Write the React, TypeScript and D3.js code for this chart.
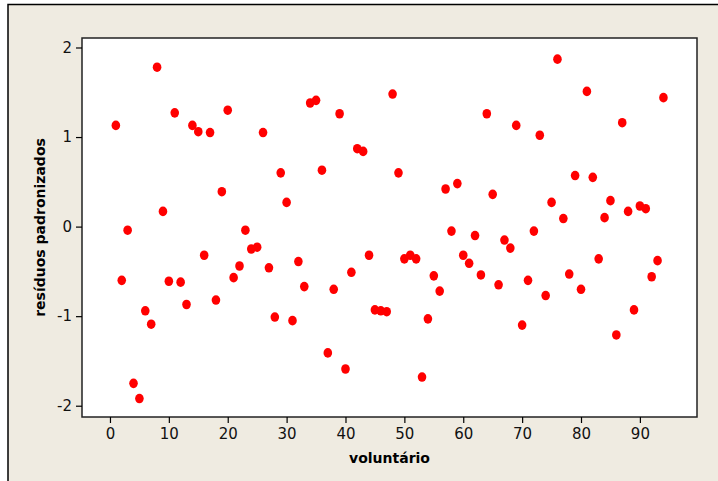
import { useEffect, useRef } from 'react';
import * as d3 from 'd3';

// volunteer index 1..94 and standardized residuals
const residuals = [
  1.13, -0.6, -0.04, -1.75, -1.92, -0.94, -1.09, 1.78, 0.17, -0.61,
  1.27, -0.62, -0.87, 1.13, 1.06, -0.32, 1.05, -0.82, 0.39, 1.3,
  -0.57, -0.44, -0.04, -0.25, -0.23, 1.05, -0.46, -1.01, 0.6, 0.27,
  -1.05, -0.39, -0.67, 1.38, 1.41, 0.63, -1.41, -0.7, 1.26, -1.59,
  -0.51, 0.87, 0.84, -0.32, -0.93, -0.94, -0.95, 1.48, 0.6, -0.36,
  -0.32, -0.36, -1.68, -1.03, -0.55, -0.72, 0.42, -0.05, 0.48, -0.32,
  -0.41, -0.1, -0.54, 1.26, 0.36, -0.65, -0.15, -0.24, 1.13, -1.1,
  -0.6, -0.05, 1.02, -0.77, 0.27, 1.87, 0.09, -0.53, 0.57, -0.7,
  1.51, 0.55, -0.36, 0.1, 0.29, -1.21, 1.16, 0.17, -0.93, 0.23,
  0.2, -0.56, -0.38, 1.44,
];
const xTicks = [0, 10, 20, 30, 40, 50, 60, 70, 80, 90];
const yTicks = [-2, -1, 0, 1, 2];

export default function App() {
  const svgRef = useRef<SVGSVGElement>(null);

  useEffect(() => {
    const width = 718;
    const height = 481;
    const plot = { left: 82, top: 38, right: 697, bottom: 417 };
    const font = '"DejaVu Sans", Verdana, sans-serif';

    const svg = d3.select(svgRef.current);
    svg.selectAll('*').remove();

    // outer frame
    svg.append('rect').attr('width', width).attr('height', height).attr('fill', '#fff');
    svg.append('rect')
      .attr('x', 8).attr('y', 4.5)
      .attr('width', width).attr('height', height)
      .attr('fill', '#efebe1').attr('stroke', '#000').attr('stroke-width', 1.5);

    const x = d3.scaleLinear().domain([-4.75, 99.7]).range([plot.left, plot.right]);
    const y = d3.scaleLinear().domain([-2.126, 2.106]).range([plot.bottom, plot.top]);

    svg.append('rect')
      .attr('x', plot.left).attr('y', plot.top)
      .attr('width', plot.right - plot.left).attr('height', plot.bottom - plot.top)
      .attr('fill', '#fff').attr('stroke', '#222').attr('stroke-width', 1.5);

    const xAxis = svg.append('g')
      .attr('transform', `translate(0,${plot.bottom})`)
      .call(d3.axisBottom(x).tickValues(xTicks).tickSize(6).tickPadding(5).tickFormat(d => String(d)));
    const yAxis = svg.append('g')
      .attr('transform', `translate(${plot.left},0)`)
      .call(d3.axisLeft(y).tickValues(yTicks).tickSize(6).tickPadding(4).tickFormat(d => String(d)));

    [xAxis, yAxis].forEach(g => {
      g.select('.domain').remove();
      g.selectAll('line').attr('stroke', '#000').attr('stroke-width', 1.2);
      g.selectAll('text')
        .attr('fill', '#111')
        .style('font-family', font)
        .style('font-size', '15px');
    });

    svg.append('g')
      .selectAll('ellipse')
      .data(residuals)
      .enter()
      .append('ellipse')
      .attr('cx', (d, i) => x(i + 1))
      .attr('cy', d => y(d))
      .attr('rx', 4.3)
      .attr('ry', 4.8)
      .attr('fill', '#ff0000');

    svg.append('text')
      .attr('x', (plot.left + plot.right) / 2)
      .attr('y', 463)
      .attr('text-anchor', 'middle')
      .style('font-family', font)
      .style('font-size', '14px')
      .style('font-weight', 'bold')
      .text('voluntário');

    svg.append('text')
      .attr('transform', `translate(45,${(plot.top + plot.bottom) / 2}) rotate(-90)`)
      .attr('text-anchor', 'middle')
      .style('font-family', font)
      .style('font-size', '14px')
      .style('font-weight', 'bold')
      .text('resíduos padronizados');
  }, []);

  return (
    <svg
      ref={svgRef}
      width={718}
      height={481}
      style={{ position: 'absolute', left: 0, top: 0 }}
    />
  );
}
